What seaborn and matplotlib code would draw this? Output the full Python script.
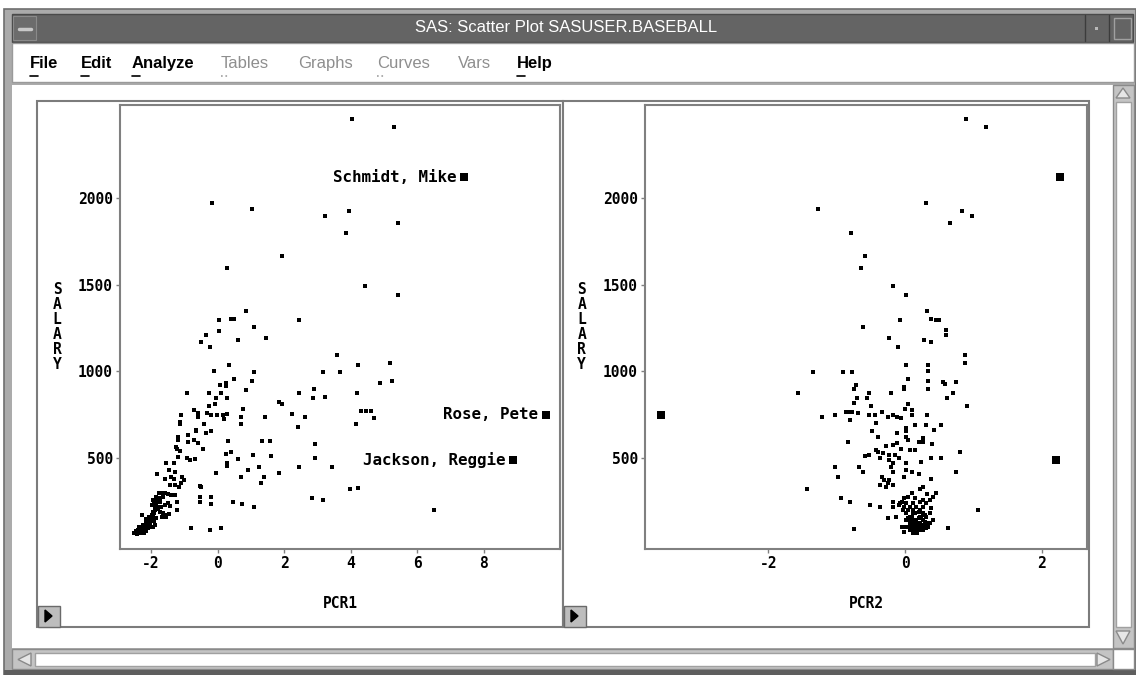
import pandas as pd
import matplotlib
matplotlib.use('Agg')
import matplotlib.pyplot as plt
from matplotlib.patches import Rectangle, Polygon
import seaborn as sns

# ---- data (PCR1 vs SALARY, PCR2 vs SALARY) ----
pcr1 = [4.03, 5.30, -0.17, 1.03, 3.23, 3.96, 3.85, 5.41, 1.94, 0.27, 4.42, 5.43,
        0.85, 0.05, 0.41, 0.49, 2.44, 1.11, -0.35, 0.05, 0.63, 1.46, -0.49, -0.24,
        3.60, 4.21, 5.19, -0.12, 0.34, 1.11, 3.16, 3.67,
        0.50, 0.06, 0.26, 0.26, 1.04, 0.86, -0.91, -0.27, -0.04, 0.28, 0.11, -0.26,
        -0.07, 0.78, -1.09, -0.72, -0.59, -0.59, -0.32, -0.19, -0.02, 0.16, 0.28, 0.18,
        0.71, 0.71, -1.14, -1.14, -0.41, -0.64, -0.64, -0.19, -0.36, -0.89, -1.19, -1.19,
        -0.89, -0.72, -0.59, 0.31, 1.33, 1.58, -1.26, -1.22, -1.14, -0.44, 0.26, 0.42,
        0.61, 1.07, 1.62, -0.91, -0.82, -0.69, -1.19, -1.54, -1.31, -1.46, -1.29, -1.81,
        -1.59, -1.39, -1.32, -1.06, -1.02, -1.09, -1.44, -1.29, -1.16, -0.54, -0.49, -0.05,
        0.28, 0.28, 0.93, 0.71, 1.26, 1.40, 1.30, 1.84, 2.44, -0.54, -0.52, -0.19,
        -0.19, 0.46, 0.74, 1.11, -1.22, -1.22, -0.81, -0.24, 0.11,
        1.84, 1.93, 2.23, 2.62, 2.42, 2.45, 2.90, 2.87, 1.43,
        4.87, 5.24, 3.22, 4.19, 4.30, 4.45, 4.60, 4.69, 4.15, 2.92, 2.92, 3.43,
        3.97, 4.23, 2.85, 3.18, 6.50,
        -2.47, -2.40, -2.33, -2.25, -2.17, -2.10, -2.02, -1.96, -1.94, -1.91, -1.88, -1.86,
        -1.84, -1.82, -1.86, -1.76, -1.69, -1.59, -1.49, -1.39, -1.29, -2.35, -2.25, -2.14,
        -2.05, -1.99, -1.94, -1.89, -1.79, -1.69, -1.59, -1.49, -1.74, -1.64, -1.54, -1.46,
        -1.66, -1.56, -2.26, -2.20, -2.43, -2.50, -2.30, -2.10, -1.99, -1.89, -2.14, -2.07,
        -1.84, -1.94, -1.74, -1.64, -1.44, -1.94, -1.96, -2.38, -2.28, -2.20, -2.12, -2.00,
        -1.98, -1.80, -1.78, -1.72, -1.90, -2.45, -2.35, -2.15, -2.05, -1.92]
salary1 = [2452, 2410, 1971, 1937, 1894, 1923, 1798, 1854, 1665, 1596, 1492, 1442,
           1346, 1296, 1300, 1304, 1296, 1254, 1212, 1235, 1179, 1192, 1171, 1142,
           1094, 1038, 1046, 1004, 1038, 998, 998, 998,
           958, 923, 933, 917, 946, 894, 875, 875, 846, 846, 875, 798,
           813, 785, 750, 779, 763, 740, 763, 750, 750, 750, 756, 725,
           737, 696, 711, 696, 696, 663, 654, 654, 644, 635, 625, 606,
           596, 606, 590, 598, 598, 598, 567, 552, 544, 556, 525, 533,
           496, 519, 513, 500, 490, 494, 509, 471, 471, 433, 423, 410,
           379, 394, 381, 391, 375, 360, 346, 346, 333, 340, 333, 414,
           456, 471, 433, 394, 452, 394, 360, 414, 452, 279, 250, 279,
           235, 250, 235, 221, 250, 202, 96, 87, 96,
           823, 812, 754, 737, 677, 875, 898, 846, 737,
           933, 946, 850, 875, 773, 773, 773, 731, 696, 583, 500, 452,
           321, 327, 273, 258, 202,
           71, 77, 83, 90, 102, 115, 129, 144, 163, 183, 202, 221,
           240, 260, 279, 298, 302, 298, 294, 289, 289, 106, 115, 125,
           144, 163, 192, 212, 221, 221, 231, 240, 192, 183, 173, 179,
           163, 163, 173, 67, 63, 67, 67, 96, 106, 115, 148, 163,
           154, 106, 250, 279, 225, 260, 231, 85, 98, 110, 135, 155,
           175, 205, 250, 270, 245, 80, 70, 80, 120, 140]

pcr2 = [0.89, 1.19, -1.27, 0.31, 0.84, 0.98, 0.66, -0.79, -0.58, -0.65, -0.17, 0.02,
        0.32, -0.08, 0.38, 0.45, 0.50, -0.62, 0.60, 0.60, -0.24, 0.28, 0.38, -0.10,
        0.87, 0.02, 0.34, 0.87, 0.34, -1.34, -0.90, -0.77,
        0.04, -0.01, -0.01, 0.34, 0.33, 0.56, 0.58, 0.75, -0.72, -0.74, -1.57, -0.53,
        -0.55, -0.70, -0.74, -0.20, 0.70, 0.61, 0.91, 0.04, -0.49, 0.00, 0.10, 0.10,
        -0.86, -0.81, -0.77, -0.69, -0.53, -0.44, -0.33, -1.21, -1.02, -0.80, -0.42, -0.25,
        -0.17, -0.12, -0.06, 0.32, 0.15, 0.31, 0.52, 0.43, 0.02, 0.02, -0.12, -0.48,
        -0.39, 0.02, 0.04, 0.21, 0.26, 0.26, 0.39, -0.83, -0.28, -0.17, -0.12, -0.06,
        0.07, 0.15, -0.43, -0.39, -0.32, -0.52, -0.59, -0.23, -0.15, -0.09, -0.36, -0.24,
        -0.17, 0.23, 0.38, 0.52, 0.81, 0.02, -0.20, 0.01, 0.10, 0.21, -0.01, -0.18,
        0.75, -1.02, -0.67, -0.62, -0.98, -0.33, -0.31, -0.25, -0.36, -0.28, -0.17, -0.23,
        0.38, -1.43, 0.26, 0.22, 0.10, 0.04, -0.01, -0.04, 0.15, 0.26, 0.32, 0.46,
        0.22, 0.38, 0.36, 0.29, 0.21, 0.12, 0.04, -0.01, -0.09, -0.18, -0.17, -0.13,
        -0.25, -0.36, -0.51, -0.94, -0.80, 1.07, -0.74, 0.63, -0.01,
        0.07, 0.12, 0.18, 0.10, 0.15, 0.21, 0.04, 0.26, 0.12, 0.07, 0.18, 0.29,
        0.21, 0.10, 0.15, 0.23, 0.04, 0.31, 0.34, -0.04, 0.18, 0.12,
        0.02, 0.07, 0.12, 0.16, 0.22, 0.27, 0.31, 0.36, 0.41, -0.03, 0.02, 0.12,
        0.22, 0.27, 0.31, 0.07, 0.16, 0.27, 0.36, 0.07, 0.12, 0.22, 0.16, 0.07,
        0.27, 0.12, 0.16, 0.22, 0.02, 0.31, 0.41, 0.36, -0.07, 0.02, 0.12, 0.22,
        0.16, 0.07, 0.31, 0.27]
salary2 = [2452, 2410, 1937, 1971, 1923, 1894, 1854, 1798, 1665, 1596, 1492, 1442,
           1346, 1296, 1304, 1296, 1296, 1254, 1237, 1212, 1192, 1179, 1171, 1142,
           1094, 1038, 1038, 1046, 1004, 998, 998, 998,
           958, 913, 900, 946, 898, 937, 929, 942, 923, 898, 875, 875,
           848, 848, 821, 875, 875, 846, 798, 812, 798, 783, 775, 750,
           769, 769, 769, 763, 750, 750, 769, 735, 750, 721, 702, 737,
           750, 737, 731, 750, 692, 692, 692, 663, 673, 654, 644, 654,
           625, 625, 606, 596, 596, 619, 583, 596, 571, 577, 590, 554,
           548, 548, 548, 535, 529, 519, 513, 519, 519, 500, 500, 490,
           471, 481, 500, 500, 535, 471, 452, 433, 423, 410, 394, 423,
           423, 452, 452, 423, 394, 394, 375, 356, 346, 337, 346, 375,
           381, 321, 337, 323, 298, 279, 269, 250, 269, 260, 294, 298,
           250, 212, 183, 173, 192, 202, 202, 221, 231, 250, 221, 163,
           158, 221, 233, 271, 248, 200, 90, 96, 77,
           144, 135, 125, 115, 106, 96, 106, 115, 87, 96, 87, 135,
           154, 163, 183, 163, 154, 96, 106, 106, 67, 77,
           240, 221, 240, 221, 202, 221, 240, 260, 279, 202, 183, 183,
           163, 183, 163, 163, 144, 144, 125, 125, 106, 106, 87, 87,
           87, 67, 125, 125, 144, 106, 144, 183, 240, 106, 144, 87,
           106, 106, 125, 106]

# highlighted players (same observations in both panels)
names = ['Schmidt, Mike', 'Rose, Pete', 'Jackson, Reggie']
hl_pcr1 = [7.42, 9.86, 8.88]
hl_pcr2 = [2.27, -3.56, 2.21]
hl_salary = [2119, 750, 490]

left_df = pd.DataFrame({'PCR1': pcr1, 'SALARY': salary1})
right_df = pd.DataFrame({'PCR2': pcr2, 'SALARY': salary2})
hl_df = pd.DataFrame({'name': names, 'PCR1': hl_pcr1, 'PCR2': hl_pcr2, 'SALARY': hl_salary})

sns.set_theme(style='white')
plt.rcParams['font.family'] = ['DejaVu Sans Mono', 'DejaVu Sans']

W, H = 1136, 675
fig = plt.figure(figsize=(W / 100, H / 100), dpi=100)
fig.patch.set_facecolor('white')

# window chrome drawn in pixel space on a background axes
bg = fig.add_axes([0, 0, 1, 1])
bg.set_xlim(0, W)
bg.set_ylim(H, 0)
bg.axis('off')


def box(x, y, w, h, fc, ec='none', lw=1.0, z=1):
    bg.add_patch(Rectangle((x, y), w, h, facecolor=fc, edgecolor=ec, linewidth=lw, zorder=z))


box(4, 9, 1132, 666, '#ababab', '#6e6e6e', 1.2)
box(12, 14, 1121, 28, '#646464', '#4a4a4a', 1.0, 2)
box(13, 16, 23, 24, '#6c6c6c', '#8a8a8a', 0.8, 3)
bg.plot([19, 31], [29, 29], color='#c8c8c8', lw=2.5, zorder=4)
bg.plot([1085, 1085], [15, 41], color='#3c3c3c', lw=1, zorder=4)
bg.plot([1109, 1109], [15, 41], color='#3c3c3c', lw=1, zorder=4)
box(1095, 27, 3, 3, '#b8b8b8', z=4)
box(1114, 18, 17, 21, '#646464', '#a0a0a0', 1.0, 4)
bg.text(566, 28, 'SAS: Scatter Plot SASUSER.BASEBALL', color='white', fontsize=12,
        family='Liberation Sans', ha='center', va='center', zorder=5)

# menu bar
box(12, 43, 1122, 39, 'white', '#9a9a9a', 1.0, 2)
menus = [('File', 30, True, True), ('Edit', 81, True, True), ('Analyze', 132, True, True),
         ('Tables', 221, False, True), ('Graphs', 298, False, False),
         ('Curves', 377, False, True), ('Vars', 458, False, False), ('Help', 517, True, True)]
for label, mx, active, uline in menus:
    bg.text(mx, 68, label, fontsize=12, family='Liberation Sans',
            fontweight='bold' if active else 'normal',
            color='black' if active else '#8e8e8e', ha='left', va='baseline', zorder=5)
    if uline:
        bg.plot([mx, mx + 8], [75.5, 75.5], color='black' if active else '#a0a0a0',
                lw=1.2, ls='-' if active else ':', zorder=5)

# client area, panels and scrollbars
box(12, 85, 1101, 563, 'white', z=2)
for px in (37, 563):
    box(px, 101, 526, 526, 'white', '#7c7c7c', 1.5, 3)
    box(px + 1, 606, 22, 21, '#bdbdbd', '#6a6a6a', 1.0, 4)
    bg.add_patch(Polygon([(px + 8, 610), (px + 8, 622), (px + 15, 616)],
                         closed=True, color='black', zorder=5))
box(1113, 85, 21, 563, '#c4c4c4', '#8a8a8a', 1.0, 3)
box(1116, 102, 15, 525, 'white', '#a0a0a0', 1.0, 4)
bg.add_patch(Polygon([(1116, 98), (1130, 98), (1123, 88)], closed=True,
                     fc='#e6e6e6', ec='#8a8a8a', lw=1, zorder=5))
bg.add_patch(Polygon([(1116, 631), (1130, 631), (1123, 644)], closed=True,
                     fc='#e6e6e6', ec='#8a8a8a', lw=1, zorder=5))
box(12, 649, 1101, 20, '#c4c4c4', '#8a8a8a', 1.0, 3)
box(35, 653, 1060, 13, 'white', '#a0a0a0', 1.0, 4)
bg.add_patch(Polygon([(31, 653), (31, 666), (18, 659.5)], closed=True,
                     fc='#e6e6e6', ec='#8a8a8a', lw=1, zorder=5))
bg.add_patch(Polygon([(1097, 653), (1097, 666), (1110, 659.5)], closed=True,
                     fc='#e6e6e6', ec='#8a8a8a', lw=1, zorder=5))
box(1113, 649, 21, 20, 'white', '#8a8a8a', 1.0, 4)
box(4, 670, 1132, 5, '#5e5e5e', z=3)


def px_axes(x0, x1, y0, y1):
    return fig.add_axes([x0 / W, 1 - y1 / H, (x1 - x0) / W, (y1 - y0) / H])


ax1 = px_axes(120, 560, 105, 549)
ax2 = px_axes(645, 1087, 105, 549)

mono = dict(family='DejaVu Sans Mono', fontweight='bold', fontsize=10.5, color='black')
label_font = dict(mono, fontsize=11.4)

panels = [(ax1, left_df, 'PCR1', (-2.93, 10.29), [-2, 0, 2, 4, 6, 8]),
          (ax2, right_df, 'PCR2', (-3.80, 2.66), [-2, 0, 2])]
for ax, df, xcol, xlim, xt in panels:
    sns.scatterplot(data=df, x=xcol, y='SALARY', marker='s', color='black',
                    s=9, linewidth=0, ax=ax, legend=False)
    sns.scatterplot(data=hl_df, x=xcol, y='SALARY', marker='s', color='black',
                    s=34, linewidth=0, ax=ax, legend=False)
    ax.set_xlim(*xlim)
    ax.set_ylim(-23, 2535)
    ax.set_xticks(xt)
    ax.set_yticks([500, 1000, 1500, 2000])
    ax.set_xticklabels([str(v) for v in xt], **mono)
    ax.set_yticklabels(['500', '1000', '1500', '2000'], **mono)
    ax.tick_params(direction='out', length=3, width=1, color='#808080', pad=2,
                   bottom=True, left=True)
    for sp in ax.spines.values():
        sp.set_color('#808080')
        sp.set_linewidth(1.5)
    ax.set_facecolor('white')
    ax.set_xlabel(xcol, labelpad=0, **mono)
    ax.xaxis.set_label_coords(0.5, -0.105)
    ax.set_ylabel('S\nA\nL\nA\nR\nY', rotation=0, ha='center', va='center',
                  linespacing=1.0, **mono)
    ax.yaxis.set_label_coords(-0.143, 0.5)

for _, row in hl_df.iterrows():
    ax1.annotate(row['name'], (row['PCR1'], row['SALARY']), xytext=(-5.5, 0),
                 textcoords='offset points', ha='right', va='center', **label_font)

fig.savefig('out.png', dpi=100)
